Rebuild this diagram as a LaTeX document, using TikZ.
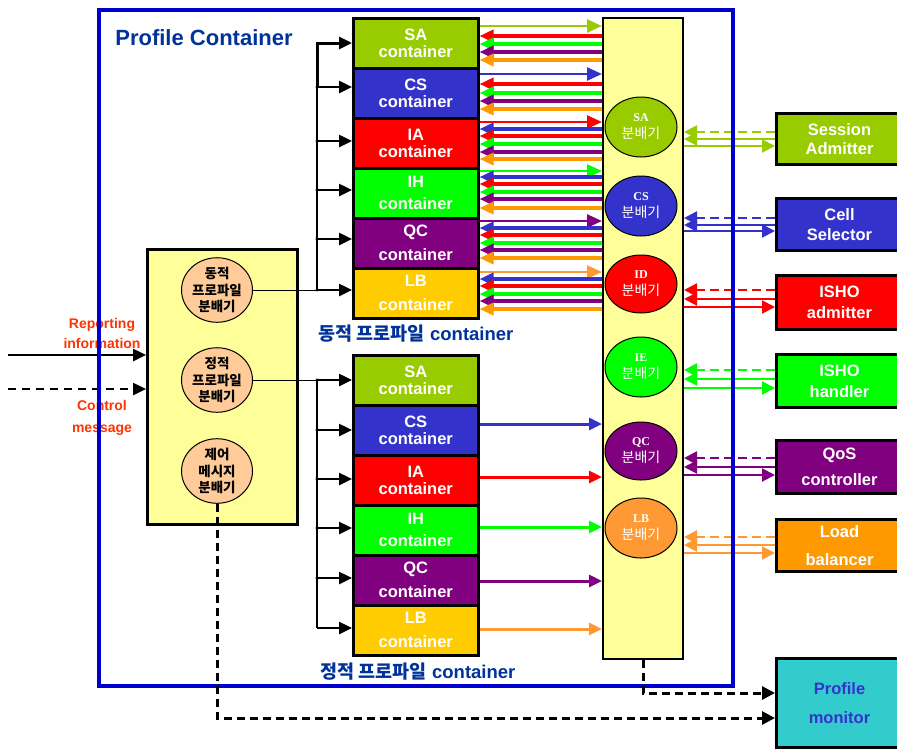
\documentclass[tikz,border=0pt]{standalone}
\usepackage{fontspec}
\setmainfont{Liberation Sans}
\newfontfamily\kr{Noto Sans CJK KR}
\newfontfamily\ser{Liberation Serif}
\usetikzlibrary{arrows.meta,shapes.geometric,calc}
\definecolor{saC}{RGB}{153,204,0}
\definecolor{csC}{RGB}{51,51,204}
\definecolor{iaC}{RGB}{255,0,0}
\definecolor{ihC}{RGB}{0,255,0}
\definecolor{qcC}{RGB}{128,0,128}
\definecolor{lbC}{RGB}{255,204,0}
\definecolor{orC}{RGB}{255,153,0}
\definecolor{orL}{RGB}{255,153,51}
\definecolor{pcBlue}{RGB}{0,0,204}
\definecolor{titleBlue}{RGB}{0,51,153}
\definecolor{ylw}{RGB}{255,255,153}
\definecolor{peach}{RGB}{255,204,153}
\definecolor{repRed}{RGB}{255,51,0}
\definecolor{pmC}{RGB}{51,204,204}
\newcommand\toCol[3]{\draw[rA,#1] (#2.east |- 0,#3) -- (col.west |- 0,#3);}
\newcommand\fromCol[3]{\draw[lA,#1] (col.west |- 0,#3) -- (#2.east |- 0,#3);}
\newcommand\rconn[5]{%
  \draw[dA,#1] (#2.west |- 0,#3) -- (col.east |- 0,#3);
  \draw[sA,#1] (#2.west |- 0,#4) -- (col.east |- 0,#4);
  \draw[sA,#1] (col.east |- 0,#5) -- (#2.west |- 0,#5);}
\tikzset{
  cont/.style={draw=black, line width=2.5pt, minimum width=125pt, minimum height=50pt,
    inner sep=0pt, anchor=north west, text=white, align=center,
    font=\bfseries\fontsize{16.5}{17}\selectfont},
  rbox/.style={draw=black, line width=3pt, minimum width=126pt, minimum height=52pt,
    inner sep=0pt, anchor=north west, text=white, align=center,
    font=\bfseries\fontsize{16.5}{19}\selectfont},
  cel/.style={ellipse, draw=black, line width=1pt, minimum width=72pt, minimum height=60pt,
    inner sep=0pt, text=white, align=center, font=\fontsize{14}{17}\selectfont},
  pel/.style={ellipse, draw=black, line width=1pt, fill=peach, minimum width=71pt, minimum height=57pt,
    inner sep=0pt, align=center, font=\kr\bfseries\fontsize{13.5}{16.5}\selectfont},
  rA/.style={line width=2.5pt, -{Triangle[length=15pt,width=13pt]}},
  lA/.style={line width=3.5pt, -{Triangle[length=14pt,width=12pt]}},
  stA/.style={line width=3pt, -{Triangle[length=13pt,width=12pt]}},
  dA/.style={line width=2.5pt, dash pattern=on 9pt off 5pt, -{Triangle[length=13pt,width=13pt]}},
  sA/.style={line width=2pt, -{Triangle[length=13pt,width=13pt]}},
  busA/.style={line width=2.5pt, -{Triangle[length=13pt,width=12pt]}},
  blkdash/.style={line width=3pt, dash pattern=on 8pt off 5pt, -{Triangle[length=13pt,width=13pt]}},
  redlbl/.style={text=repRed, align=center, font=\bfseries\fontsize{14}{20}\selectfont},
  ctitle/.style={text=titleBlue, font=\bfseries\fontsize{18.5}{20}\selectfont},
}
\begin{document}
\begin{tikzpicture}[x=1pt,y=-1pt]
\useasboundingbox (0,0) rectangle (897,748);
% title
\node[text=titleBlue, font=\bfseries\fontsize{22}{24}\selectfont] (title) at (204,38) {Profile Container};
% left box
\node[draw=black, line width=2.5pt, fill=ylw, minimum width=150pt, minimum height=275pt, anchor=north west] (lbox) at (146,248) {};
\node[pel] (edyn) at (217,290) {동적\\프로파일\\분배기};
\node[pel, minimum height=54pt] (esta) at (217,380) {정적\\프로파일\\분배기};
\node[pel, minimum height=55pt] (ectl) at (217,471) {제어\\메시지\\분배기};
% inputs
\coordinate (inA) at (8,355);
\coordinate (inB) at (8,389);
\draw[line width=2.5pt, -{Triangle[length=13pt,width=12pt]}] (inA) -- (lbox.west |- inA);
\draw[line width=2.5pt, dash pattern=on 8pt off 6pt, -{Triangle[length=13pt,width=12pt]}] (inB) -- (lbox.west |- inB);
\node[redlbl] (rep) at (102,333) {Reporting\\information};
\node[redlbl, font=\bfseries\fontsize{14}{22}\selectfont] (ctlmsg) at (102,418) {Control\\message};
% dynamic containers
\node[cont, fill=saC] (dSA) at (352,17) {SA\\container};
\node[cont, fill=csC] (dCS) at (352,67) {CS\\container};
\node[cont, fill=iaC] (dIA) at (352,117) {IA\\container};
\node[cont, fill=ihC] (dIH) at (352,167) {IH\\[5pt]container};
\node[cont, fill=qcC] (dQC) at (352,217) {QC\\[7pt]container};
\node[cont, fill=lbC] (dLB) at (352,267) {LB\\[7pt]container};
\node[ctitle] (dlbl) at (416,334) {{\kr 동적 프로파일} container};
% static containers
\node[cont, fill=saC] (sSA) at (352,354) {SA\\container};
\node[cont, fill=csC] (sCS) at (352,404) {CS\\container};
\node[cont, fill=iaC] (sIA) at (352,454) {IA\\container};
\node[cont, fill=ihC] (sIH) at (352,504) {IH\\[5pt]container};
\node[cont, fill=qcC] (sQC) at (352,554) {QC\\[7pt]container};
\node[cont, fill=lbC] (sLB) at (352,604) {LB\\[7pt]container};
\node[ctitle] (slbl) at (418,672) {{\kr 정적 프로파일} container};
% dynamic bus
\coordinate (jT) at (317,43);
\coordinate (j2) at (317,87);
\coordinate (j3) at (317,141);
\coordinate (j4) at (317,190);
\coordinate (j5) at (317,239);
\coordinate (j6) at (317,290);
\draw[line width=1pt] (edyn.east) -- (j6);
\draw[line width=1.5pt] (j2) -- (j6);
\draw[busA, line width=3pt] (j2) -- (jT) -- (dSA.west |- jT);
\foreach \j/\b in {j2/dCS, j3/dIA, j4/dIH, j5/dQC, j6/dLB}{
  \draw[busA] (\j) -- (\b.west |- \j);
  \fill (\j) circle (1.6pt);
}
% static bus
\coordinate (s1) at (317,380);
\coordinate (s2) at (317,430);
\coordinate (s3) at (317,479);
\coordinate (s4) at (317,528);
\coordinate (s5) at (317,578);
\coordinate (s6) at (317,628);
\draw[line width=1pt] (esta.east) -- (s1);
\draw[busA] (s1) -- (sSA.west |- s1);
\draw[line width=1.5pt] (s1) -- (s6);
\draw[busA] (s6) -- (sLB.west |- s6);
\foreach \j/\b in {s2/sCS, s3/sIA, s4/sIH, s5/sQC}{
  \draw[busA] (\j) -- (\b.west |- \j);
  \fill (\j) circle (1.6pt);
}
\fill (s1) circle (1.6pt);
% distributor column
\node[draw=black, line width=2pt, fill=ylw, minimum width=80pt, minimum height=641pt, anchor=north west] (col) at (602,17) {};
\node[cel, fill=saC] (cSA) at (641,127) {{\ser\bfseries\fontsize{12}{12}\selectfont SA}\\{\kr 분배기}};
\node[cel, fill=csC] (cCS) at (641,206) {{\ser\bfseries\fontsize{12}{12}\selectfont CS}\\{\kr 분배기}};
\node[cel, fill=iaC, minimum height=58pt] (cID) at (641,284) {{\ser\bfseries\fontsize{12}{12}\selectfont ID}\\{\kr 분배기}};
\node[cel, fill=ihC] (cIE) at (641,367) {{\ser\bfseries\fontsize{12}{12}\selectfont IE}\\{\kr 분배기}};
\node[cel, fill=qcC, minimum height=58pt] (cQC) at (641,451) {{\ser\bfseries\fontsize{12}{12}\selectfont QC}\\{\kr 분배기}};
\node[cel, fill=orL] (cLB) at (641,528) {{\ser\bfseries\fontsize{12}{12}\selectfont LB}\\{\kr 분배기}};
% dynamic container <-> column
\toCol{saC}{dSA}{26}
\fromCol{iaC}{dSA}{36}\fromCol{ihC}{dSA}{44}\fromCol{qcC}{dSA}{52}\fromCol{orC}{dSA}{60}
\toCol{csC}{dCS}{74}
\fromCol{iaC}{dCS}{84}\fromCol{ihC}{dCS}{93}\fromCol{qcC}{dCS}{101}\fromCol{orC}{dCS}{109}
\toCol{iaC}{dIA}{122}
\fromCol{csC}{dIA}{129}\fromCol{iaC}{dIA}{136}\fromCol{ihC}{dIA}{144}\fromCol{qcC}{dIA}{152}\fromCol{orC}{dIA}{159}
\toCol{ihC}{dIH}{171}
\fromCol{csC}{dIH}{177}\fromCol{iaC}{dIH}{184}\fromCol{ihC}{dIH}{192}\fromCol{qcC}{dIH}{199}\fromCol{orC}{dIH}{208}
\toCol{qcC}{dQC}{221}
\fromCol{csC}{dQC}{228}\fromCol{iaC}{dQC}{235}\fromCol{ihC}{dQC}{243}\fromCol{qcC}{dQC}{250}\fromCol{orC}{dQC}{258}
\toCol{orL}{dLB}{272}
\fromCol{csC}{dLB}{279}\fromCol{iaC}{dLB}{286}\fromCol{ihC}{dLB}{294}\fromCol{qcC}{dLB}{301}\fromCol{orC}{dLB}{309}
% static container -> column
\draw[stA, csC] (sCS.east |- 0,424) -- (col.west |- 0,424);
\draw[stA, iaC] (sIA.east |- 0,477) -- (col.west |- 0,477);
\draw[stA, ihC] (sIH.east |- 0,527) -- (col.west |- 0,527);
\draw[stA, qcC] (sQC.east |- 0,581) -- (col.west |- 0,581);
\draw[stA, orL] (sLB.east |- 0,629) -- (col.west |- 0,629);
% right boxes
\node[rbox, fill=saC, minimum height=51pt] (sess) at (775,112) {Session\\Admitter};
\node[rbox, fill=csC] (cell) at (775,197) {Cell\\[1pt]Selector};
\node[rbox, fill=iaC, minimum height=54pt] (ishoA) at (775,274) {ISHO\\[2pt]admitter};
\node[rbox, fill=ihC, minimum height=53pt] (ishoH) at (775,353) {ISHO\\[2pt]handler};
\node[rbox, fill=qcC, minimum height=53pt] (qos) at (775,439) {QoS\\[7pt]controller};
\node[rbox, fill=orC] (load) at (775,518) {Load\\[9pt]balancer};
\node[rbox, fill=pmC, text=csC, minimum height=89pt] (pm) at (775,657) {Profile\\[10pt]monitor};
% column <-> right boxes
\rconn{saC}{sess}{132}{139}{146}
\rconn{csC}{cell}{218}{225}{231}
\rconn{iaC}{ishoA}{290}{299}{307}
\rconn{ihC}{ishoH}{370}{379}{388}
\rconn{qcC}{qos}{458}{467}{475}
\rconn{orL}{load}{537}{545}{553}
% profile container frame
\node[draw=pcBlue, line width=3.5pt, minimum width=634pt, minimum height=676pt, anchor=north west, inner sep=0pt] (pc) at (97,8) {};
% monitor links
\draw[blkdash] (ectl.south) -- (ectl.south |- 0,718) -- (pm.west |- 0,718);
\draw[blkdash] (col.south) -- (col.south |- 0,693) -- (pm.west |- 0,693);
\end{tikzpicture}
\end{document}
